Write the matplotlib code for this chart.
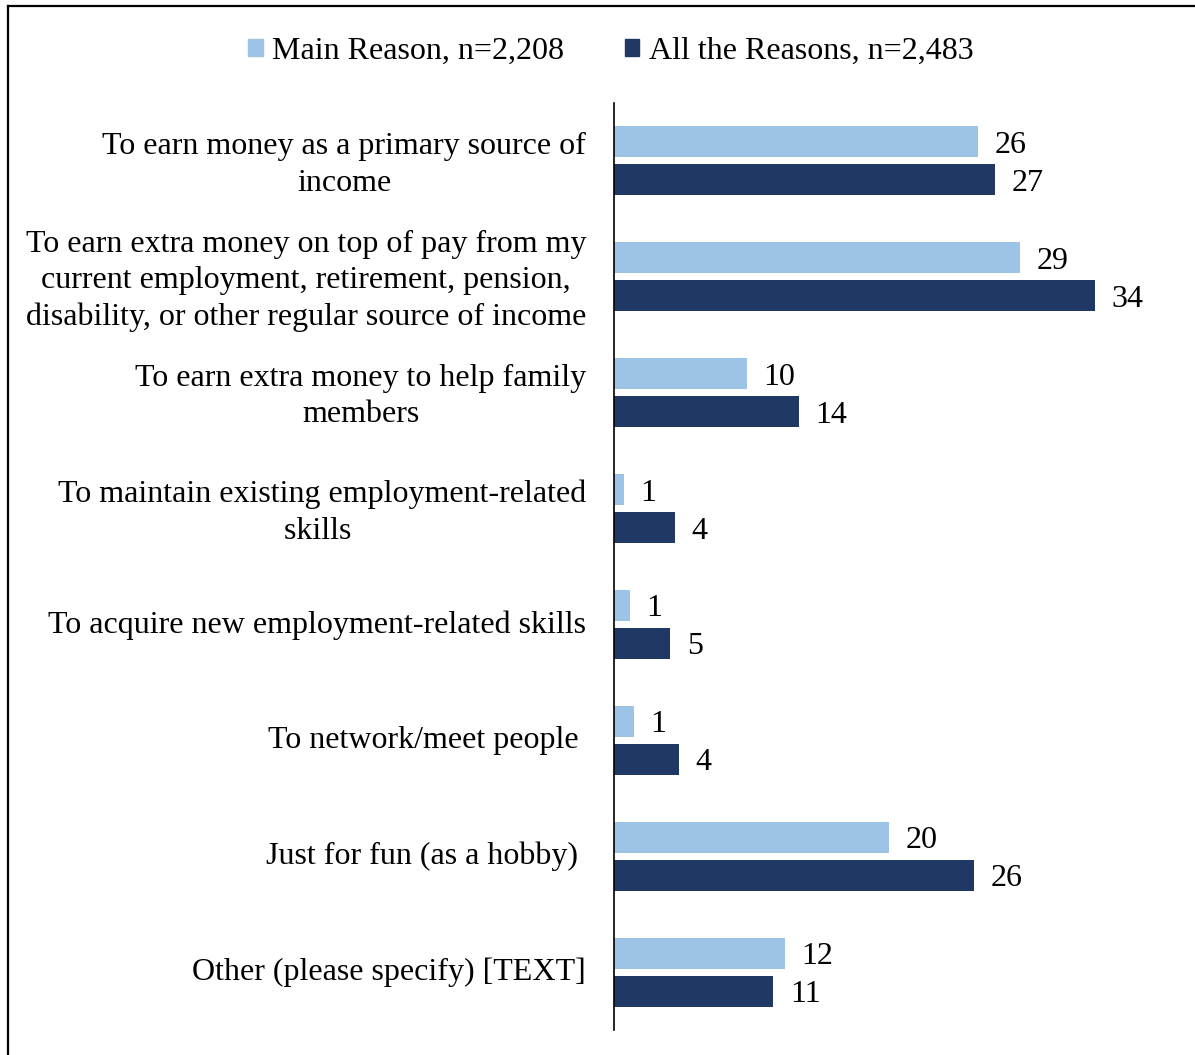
import matplotlib
matplotlib.use("Agg")
import matplotlib.pyplot as plt
import matplotlib.transforms as mtransforms
from matplotlib.lines import Line2D
from matplotlib.patches import Patch
import numpy as np

# category labels (wrapped like the original)
categories = [
    "To earn money as a primary source of\nincome",
    "To earn extra money on top of pay from my\ncurrent employment, retirement, pension,\ndisability, or other regular source of income",
    "To earn extra money to help family\nmembers",
    "To maintain existing employment-related\nskills ",
    "To acquire new employment-related skills",
    "To network/meet people ",
    "Just for fun (as a hobby) ",
    "Other (please specify) [TEXT]",
]

# bar lengths (percent)
main_vals = [25.8, 28.8, 9.4, 0.7, 1.1, 1.4, 19.5, 12.1]
all_vals = [27.0, 34.1, 13.1, 4.3, 4.0, 4.6, 25.5, 11.3]

# data labels as printed
main_labels = ["26", "29", "10", "1", "1", "1", "20", "12"]
all_labels = ["27", "34", "14", "4", "5", "4", "26", "11"]

light = "#9DC3E6"
dark = "#203864"

plt.rcParams["font.family"] = ["Liberation Serif", "DejaVu Serif"]

fig = plt.figure(figsize=(11.95, 10.55), dpi=100)
ax = fig.add_axes([614 / 1195, 1 - 1030 / 1055, (1150 - 614) / 1195, (1030 - 103) / 1055])

y = np.arange(len(categories))
h = 0.267
off = 0.164

ax.barh(y - off, main_vals, height=h, color=light)
ax.barh(y + off, all_vals, height=h, color=dark)

for i in range(len(categories)):
    ax.annotate(main_labels[i], (main_vals[i], y[i] - off), xytext=(12, -2.5),
                textcoords="offset points", va="center", ha="left", fontsize=23)
    ax.annotate(all_labels[i], (all_vals[i], y[i] + off), xytext=(12, -2.5),
                textcoords="offset points", va="center", ha="left", fontsize=23)

ax.set_xlim(0, 536 / 14.1)
ax.set_ylim(len(categories) - 0.5, -0.5)
ax.set_yticks(y)
ax.set_yticklabels(categories, fontsize=23, multialignment="center", linespacing=1.33)
ax.tick_params(axis="y", length=0, pad=20)
ax.set_xticks([])

# nudge category labels up a little
shift = mtransforms.ScaledTranslation(0, 3 / 100, fig.dpi_scale_trans)
for lbl in ax.get_yticklabels():
    lbl.set_transform(lbl.get_transform() + shift)

for s in ["top", "right", "bottom"]:
    ax.spines[s].set_visible(False)
ax.spines["left"].set_linewidth(1.2)

handles = [Patch(color=light), Patch(color=dark)]
fig.legend(handles, ["Main Reason, n=2,208", "All the Reasons, n=2,483"],
           loc="center", bbox_to_anchor=(611 / 1195, 1 - 51 / 1055), ncol=2,
           frameon=False, fontsize=23, handlelength=0.45, handleheight=0.45,
           handletextpad=0.3, columnspacing=1.9)

# chart border (top and left)
fig.add_artist(Line2D([8 / 1195, 1], [1 - 6 / 1055, 1 - 6 / 1055], color="black",
                      linewidth=1.6, transform=fig.transFigure))
fig.add_artist(Line2D([8 / 1195, 8 / 1195], [0, 1 - 6 / 1055], color="black",
                      linewidth=1.6, transform=fig.transFigure))

fig.savefig("out.png", dpi=100)
